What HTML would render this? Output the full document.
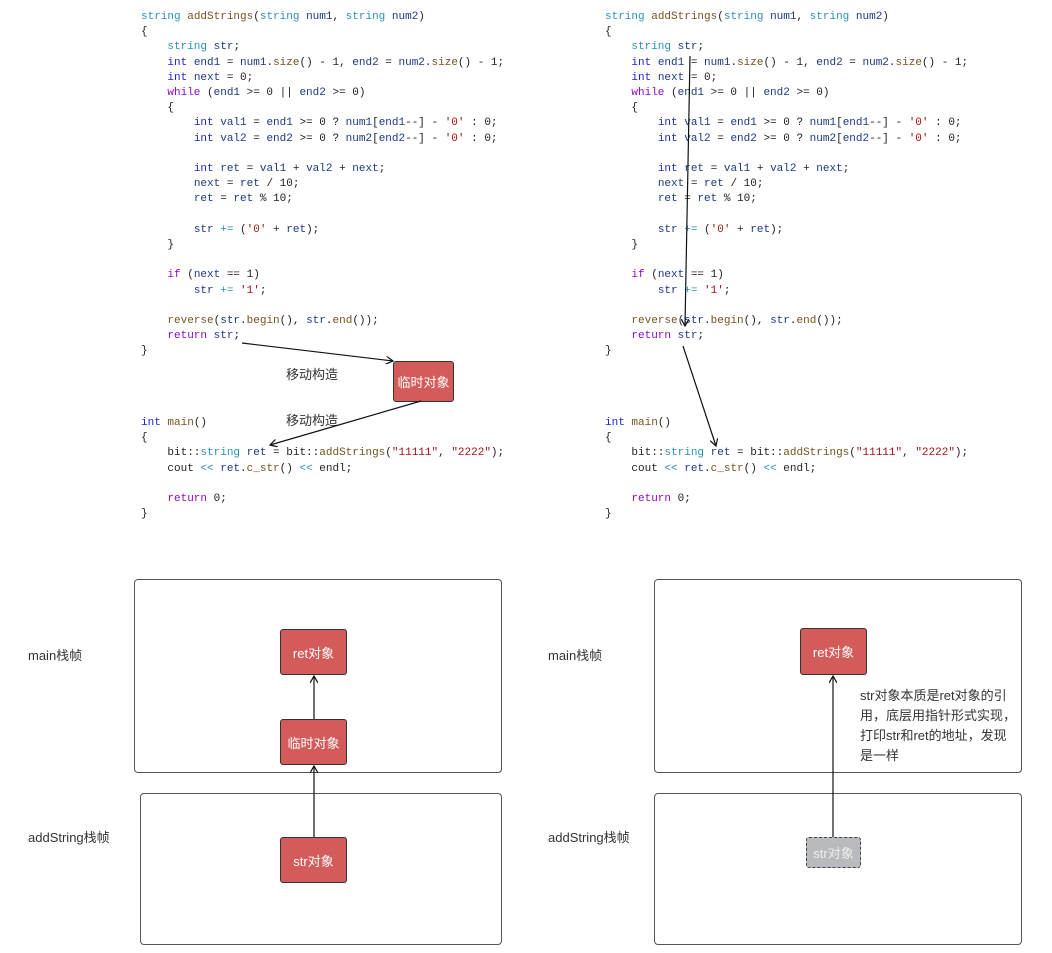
<!DOCTYPE html>
<html><head><meta charset="utf-8">
<style>
html,body{margin:0;padding:0;background:#fff;}
body{width:1052px;height:953px;position:relative;overflow:hidden;font-family:"Liberation Sans","Noto Sans CJK SC",sans-serif;}
pre{position:absolute;margin:0;font-family:"Liberation Mono","Noto Sans CJK SC",monospace;font-size:11px;line-height:15.2px;color:#222;}
.k{color:#2323c8}.t{color:#2b91af}.p{color:#8f08c4}.f{color:#74531f}.v{color:#1f377f}.s{color:#a31515}.g{color:#2b91af}
.box{position:absolute;background:#d35c5a;border:1.5px solid #333;border-radius:3px;color:#fff;font-size:13px;display:flex;align-items:center;justify-content:center;box-sizing:border-box;}
.frame{position:absolute;border:1.5px solid #555;border-radius:4px;box-sizing:border-box;}
.lbl{position:absolute;font-size:13px;color:#333;white-space:nowrap;}
</style></head><body>

<pre style="left:141px;top:10px"><span class="t">string</span> <span class="f">addStrings</span>(<span class="t">string</span> <span class="v">num1</span>, <span class="t">string</span> <span class="v">num2</span>)
{
    <span class="t">string</span> <span class="v">str</span>;
    <span class="k">int</span> <span class="v">end1</span> = <span class="v">num1</span>.<span class="f">size</span>() - 1, <span class="v">end2</span> = <span class="v">num2</span>.<span class="f">size</span>() - 1;
    <span class="k">int</span> <span class="v">next</span> = 0;
    <span class="p">while</span> (<span class="v">end1</span> &gt;= 0 || <span class="v">end2</span> &gt;= 0)
    {
        <span class="k">int</span> <span class="v">val1</span> = <span class="v">end1</span> &gt;= 0 ? <span class="v">num1</span>[<span class="v">end1</span>--] - <span class="s">'0'</span> : 0;
        <span class="k">int</span> <span class="v">val2</span> = <span class="v">end2</span> &gt;= 0 ? <span class="v">num2</span>[<span class="v">end2</span>--] - <span class="s">'0'</span> : 0;

        <span class="k">int</span> <span class="v">ret</span> = <span class="v">val1</span> + <span class="v">val2</span> + <span class="v">next</span>;
        <span class="v">next</span> = <span class="v">ret</span> / 10;
        <span class="v">ret</span> = <span class="v">ret</span> % 10;

        <span class="v">str</span> <span class="g">+=</span> (<span class="s">'0'</span> + <span class="v">ret</span>);
    }

    <span class="p">if</span> (<span class="v">next</span> == 1)
        <span class="v">str</span> <span class="g">+=</span> <span class="s">'1'</span>;

    <span class="f">reverse</span>(<span class="v">str</span>.<span class="f">begin</span>(), <span class="v">str</span>.<span class="f">end</span>());
    <span class="p">return</span> <span class="v">str</span>;
}</pre>
<pre style="left:141px;top:416px"><span class="k">int</span> <span class="f">main</span>()
{
    bit::<span class="t">string</span> <span class="v">ret</span> = bit::<span class="f">addStrings</span>(<span class="s">"11111"</span>, <span class="s">"2222"</span>);
    cout <span class="g">&lt;&lt;</span> <span class="v">ret</span>.<span class="f">c_str</span>() <span class="g">&lt;&lt;</span> endl;

    <span class="p">return</span> 0;
}</pre>

<pre style="left:605px;top:10px"><span class="t">string</span> <span class="f">addStrings</span>(<span class="t">string</span> <span class="v">num1</span>, <span class="t">string</span> <span class="v">num2</span>)
{
    <span class="t">string</span> <span class="v">str</span>;
    <span class="k">int</span> <span class="v">end1</span> = <span class="v">num1</span>.<span class="f">size</span>() - 1, <span class="v">end2</span> = <span class="v">num2</span>.<span class="f">size</span>() - 1;
    <span class="k">int</span> <span class="v">next</span> = 0;
    <span class="p">while</span> (<span class="v">end1</span> &gt;= 0 || <span class="v">end2</span> &gt;= 0)
    {
        <span class="k">int</span> <span class="v">val1</span> = <span class="v">end1</span> &gt;= 0 ? <span class="v">num1</span>[<span class="v">end1</span>--] - <span class="s">'0'</span> : 0;
        <span class="k">int</span> <span class="v">val2</span> = <span class="v">end2</span> &gt;= 0 ? <span class="v">num2</span>[<span class="v">end2</span>--] - <span class="s">'0'</span> : 0;

        <span class="k">int</span> <span class="v">ret</span> = <span class="v">val1</span> + <span class="v">val2</span> + <span class="v">next</span>;
        <span class="v">next</span> = <span class="v">ret</span> / 10;
        <span class="v">ret</span> = <span class="v">ret</span> % 10;

        <span class="v">str</span> <span class="g">+=</span> (<span class="s">'0'</span> + <span class="v">ret</span>);
    }

    <span class="p">if</span> (<span class="v">next</span> == 1)
        <span class="v">str</span> <span class="g">+=</span> <span class="s">'1'</span>;

    <span class="f">reverse</span>(<span class="v">str</span>.<span class="f">begin</span>(), <span class="v">str</span>.<span class="f">end</span>());
    <span class="p">return</span> <span class="v">str</span>;
}</pre>
<pre style="left:605px;top:416px"><span class="k">int</span> <span class="f">main</span>()
{
    bit::<span class="t">string</span> <span class="v">ret</span> = bit::<span class="f">addStrings</span>(<span class="s">"11111"</span>, <span class="s">"2222"</span>);
    cout <span class="g">&lt;&lt;</span> <span class="v">ret</span>.<span class="f">c_str</span>() <span class="g">&lt;&lt;</span> endl;

    <span class="p">return</span> 0;
}</pre>

<!-- frames -->
<div class="frame" style="left:134px;top:579px;width:368px;height:194px"></div>
<div class="frame" style="left:140px;top:793px;width:362px;height:152px"></div>
<div class="frame" style="left:654px;top:579px;width:368px;height:194px"></div>
<div class="frame" style="left:654px;top:793px;width:368px;height:152px"></div>

<div class="lbl" style="left:28px;top:645px">main栈帧</div>
<div class="lbl" style="left:28px;top:827px">addString栈帧</div>
<div class="lbl" style="left:548px;top:645px">main栈帧</div>
<div class="lbl" style="left:548px;top:827px">addString栈帧</div>

<div class="box" style="left:393px;top:361px;width:61px;height:41px">临时对象</div>
<div class="box" style="left:280px;top:629px;width:67px;height:46px">ret对象</div>
<div class="box" style="left:280px;top:719px;width:67px;height:46px">临时对象</div>
<div class="box" style="left:280px;top:837px;width:67px;height:46px">str对象</div>
<div class="box" style="left:800px;top:628px;width:67px;height:47px">ret对象</div>
<div class="box" style="left:806px;top:837px;width:55px;height:31px;background:#b9babd;border:1.5px dashed #444;color:#eee">str对象</div>

<div class="lbl" style="left:286px;top:364px">移动构造</div>
<div class="lbl" style="left:286px;top:410px">移动构造</div>
<div class="lbl" style="left:860px;top:686px;line-height:20px;font-size:13px">str对象本质是ret对象的引<br>用，底层用指针形式实现，<br>打印str和ret的地址，发现<br>是一样</div>

<svg width="1052" height="953" style="position:absolute;left:0;top:0" xmlns="http://www.w3.org/2000/svg">
<defs><marker id="a" markerWidth="8" markerHeight="8" refX="7" refY="4" orient="auto" markerUnits="userSpaceOnUse"><path d="M0,0 L7,4 L0,8" fill="none" stroke="#111" stroke-width="1.2"/></marker></defs>
<g stroke="#111" stroke-width="1.2" fill="none">
<line x1="242" y1="343" x2="393" y2="361" marker-end="url(#a)"/>
<line x1="421" y1="401" x2="270" y2="445" marker-end="url(#a)"/>
<line x1="690" y1="56" x2="685" y2="326" marker-end="url(#a)"/>
<line x1="683" y1="346" x2="716" y2="446" marker-end="url(#a)"/>
<line x1="314" y1="837" x2="314" y2="766" marker-end="url(#a)"/>
<line x1="314" y1="719" x2="314" y2="676" marker-end="url(#a)"/>
<line x1="833" y1="837" x2="833" y2="676" marker-end="url(#a)"/>
</g>
</svg>
</body></html>
